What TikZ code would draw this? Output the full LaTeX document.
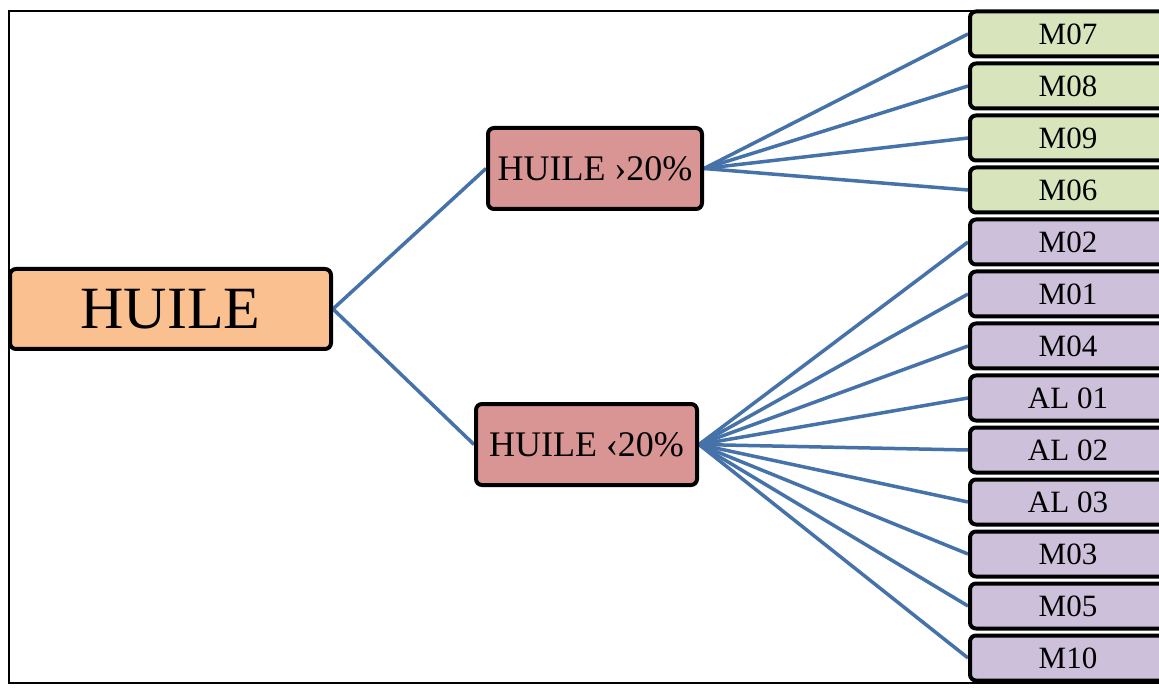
\documentclass[tikz,border=0pt]{standalone}
\usepackage{fontspec}
\setmainfont{Liberation Serif}
\usetikzlibrary{backgrounds}
\definecolor{linkblue}{HTML}{4672AA}
\definecolor{rootfill}{HTML}{FAC090}
\definecolor{midfill}{HTML}{D99594}
\definecolor{greenfill}{HTML}{D7E4BC}
\definecolor{purplefill}{HTML}{CCC0DA}
\begin{document}
\begin{tikzpicture}[x=1pt,y=-1pt,
  box/.style={draw=black,line width=4pt,rounded corners=6pt,inner sep=0pt,anchor=center},
  rootbox/.style={box,fill=rootfill,minimum width=321pt,minimum height=80pt,font=\fontsize{60}{60}\selectfont},
  midbox/.style={box,fill=midfill,minimum height=81pt,font=\fontsize{36}{36}\selectfont},
  leafbox/.style={box,minimum width=196pt,minimum height=45pt,font=\fontsize{31}{31}\selectfont},
  greenleaf/.style={leafbox,fill=greenfill},
  purpleleaf/.style={leafbox,fill=purplefill},
  link/.style={draw=linkblue,line width=3.5pt}]
\useasboundingbox (0,0) rectangle (1159,692);
% nodes
\node[rootbox] (root) at (170.5,309) {HUILE};
\node[midbox,minimum width=214pt] (hi) at (595,168.5) {HUILE ›20\%};
\node[midbox,minimum width=221pt] (lo) at (586.5,444.5) {HUILE ‹20\%};
\foreach \name/\lab/\yy in {m07/M07/34, m08/M08/86, m09/M09/138, m06/M06/190}
  \node[greenleaf] (\name) at (1068,\yy) {\lab};
\foreach \name/\lab/\yy in {m02/M02/242, m01/M01/294, m04/M04/346, al01/AL 01/398, al02/AL 02/450, al03/AL 03/502, m03/M03/554, m05/M05/606, m10/M10/658}
  \node[purpleleaf] (\name) at (1068,\yy) {\lab};
% frame and connectors behind the boxes
\begin{scope}[on background layer]
  \fill[white] (0,0) rectangle (1159,692);
  \draw[line width=2pt] (9,11) rectangle (1165,683);
  \draw[link] (root.east) -- (hi.west);
  \draw[link] (root.east) -- (lo.west);
  \foreach \leaf in {m07,m08,m09,m06}
    \draw[link] (hi.east) -- (\leaf.west);
  \foreach \leaf in {m02,m01,m04,al01,al02,al03,m03,m05,m10}
    \draw[link] (lo.east) -- (\leaf.west);
\end{scope}
\end{tikzpicture}
\end{document}
